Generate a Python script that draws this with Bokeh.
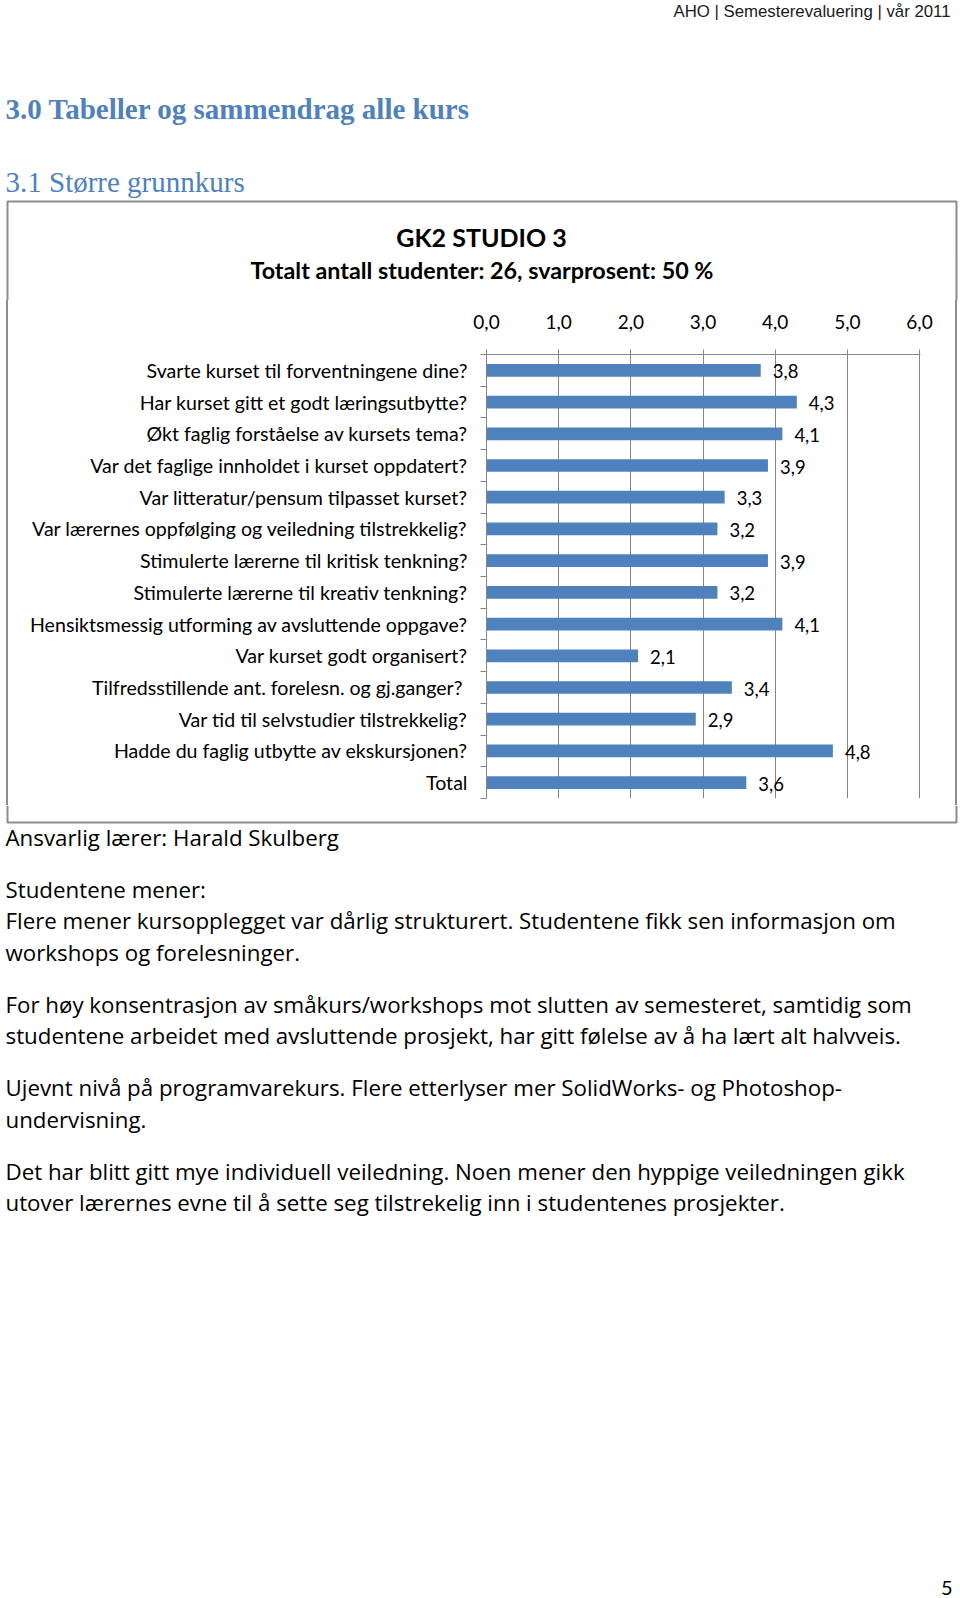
from bokeh.plotting import figure
from bokeh.layouts import column, row
from bokeh.models import Range1d, FixedTicker, Label, ColumnDataSource, Spacer
from bokeh.core.properties import value
from bokeh.embed import file_html
from bokeh.resources import INLINE

# ---------------- data ----------------
categories = [
    "Svarte kurset til forventningene dine?",
    "Har kurset gitt et godt læringsutbytte?",
    "Økt faglig forståelse av kursets tema?",
    "Var det faglige innholdet i kurset oppdatert?",
    "Var litteratur/pensum tilpasset kurset?",
    "Var lærernes oppfølging og veiledning tilstrekkelig?",
    "Stimulerte lærerne til kritisk tenkning?",
    "Stimulerte lærerne til kreativ tenkning?",
    "Hensiktsmessig utforming av avsluttende oppgave?",
    "Var kurset godt organisert?",
    "Tilfredsstillende ant. forelesn. og gj.ganger? ",
    "Var tid til selvstudier tilstrekkelig?",
    "Hadde du faglig utbytte av ekskursjonen?",
    "Total",
]
scores = [3.8, 4.3, 4.1, 3.9, 3.3, 3.2, 3.9, 3.2, 4.1, 2.1, 3.4, 2.9, 4.8, 3.6]
x_ticks = [0, 1, 2, 3, 4, 5, 6]
x_tick_labels = ["0,0", "1,0", "2,0", "3,0", "4,0", "5,0", "6,0"]

page_header = "AHO | Semesterevaluering | vår 2011"
heading1 = "3.0 Tabeller og sammendrag alle kurs"
heading2 = "3.1 Større grunnkurs"
chart_title = "GK2 STUDIO 3"
chart_subtitle = "Totalt antall studenter: 26, svarprosent: 50 %"
teacher = "Ansvarlig lærer: Harald Skulberg"
comments_heading = "Studentene mener:"
comment_lines = [
    "Flere mener kursopplegget var dårlig strukturert. Studentene fikk sen informasjon om",
    "workshops og forelesninger.",
    "For høy konsentrasjon av småkurs/workshops mot slutten av semesteret, samtidig som",
    "studentene arbeidet med avsluttende prosjekt, har gitt følelse av å ha lært alt halvveis.",
    "Ujevnt nivå på programvarekurs. Flere etterlyser mer SolidWorks- og Photoshop-",
    "undervisning.",
    "Det har blitt gitt mye individuell veiledning. Noen mener den hyppige veiledningen gikk",
    "utover lærernes evne til å sette seg tilstrekelig inn i studentenes prosjekter.",
]
page_number = "5"

# ---------------- page geometry (page pixels) ----------------
PAGE_W, PAGE_H = 960, 1598
TOP_H = 300           # header block: page y 0..300
MID_H = 505           # chart block: page y 300..805
BOT_H = PAGE_H - TOP_H - MID_H
STRIP_L, STRIP_R = 8, 4
CHART_W = 947          # page x 8..955

BOX_L, BOX_R, BOX_T, BOX_B = 7, 956, 201, 822
PLOT_L, PLOT_X6, PLOT_T, PLOT_B = 486, 919, 354, 798   # plot-area edges (page px)

BLUE = "#4f81bd"
GRAY = "#868686"
BOXC = "#8c8c8c"


def blank(w, h, x0, x1, y0, y1):
    f = figure(width=w, height=h, x_range=Range1d(x0, x1), y_range=Range1d(y1, y0),
               x_axis_location=None, y_axis_location=None, output_backend="svg",
               toolbar_location=None, min_border=0, outline_line_color=None,
               background_fill_color="white", border_fill_color="white")
    f.xgrid.grid_line_color = None
    f.ygrid.grid_line_color = None
    return f


def add_text(f, txt, x, y, font, size, color="black", align="left",
             baseline="middle", style="normal"):
    f.add_layout(Label(x=x, y=y, text=txt, text_font=font, text_font_size=size,
                       text_color=color, text_align=align, text_baseline=baseline,
                       text_font_style=style))


# ---------------- header block ----------------
top = blank(PAGE_W, TOP_H, 0, PAGE_W, 0, TOP_H)
add_text(top, page_header, 950, 10.5, "Liberation Sans", "16.8px", "#1a1a1a", align="right")
add_text(top, heading1, 5, 108, "Liberation Serif", "29px", BLUE, style="bold")
add_text(top, heading2, 5, 181, "Liberation Serif", "29px", BLUE)
top.line(x=[BOX_L, BOX_L, BOX_R, BOX_R], y=[TOP_H, BOX_T, BOX_T, TOP_H],
         line_color=BOXC, line_width=2)
add_text(top, chart_title, 481, 236, "Lato", "25px", "black", align="center", style="bold")
add_text(top, chart_subtitle, 481.5, 269, "Lato", "23.3px", "black", align="center", style="bold")

# ---------------- side edges of the chart box ----------------
left_edge = Spacer(width=STRIP_L, height=MID_H, margin=0,
                   styles={"border-right": f"2px solid {BOXC}", "box-sizing": "border-box"})
right_edge = Spacer(width=STRIP_R, height=MID_H, margin=0,
                    styles={"border-left": f"2px solid {BOXC}", "box-sizing": "border-box"})

# ---------------- chart ----------------
n = len(categories)
XMAX = x_ticks[-1]
px_per_unit = (PLOT_X6 - PLOT_L) / XMAX
fl = PLOT_L - STRIP_L                 # frame left inside chart figure
fw = (PLOT_X6 + 1) - PLOT_L           # frame width (1px beyond the last tick)
x_end = fw / px_per_unit
ft = PLOT_T - TOP_H
fb = PLOT_B - TOP_H

p = figure(width=CHART_W, height=MID_H, x_range=Range1d(0, x_end), y_range=Range1d(n, 0),
           x_axis_location="above", output_backend="svg", toolbar_location=None,
           min_border_left=fl, min_border_right=CHART_W - fl - fw,
           min_border_top=ft, min_border_bottom=MID_H - fb,
           outline_line_color=None, background_fill_color="white",
           border_fill_color="white")

centres = [i + 0.5 for i in range(n)]
yax = p.yaxis[0]
yax.ticker = FixedTicker(ticks=centres, minor_ticks=list(range(n + 1)))
yax.major_label_overrides = {c: lab for c, lab in zip(centres, categories)}
yax.major_tick_out = 0
yax.major_tick_in = 0
yax.minor_tick_out = 6
yax.minor_tick_in = 0
yax.minor_tick_line_color = GRAY
yax.axis_line_color = GRAY
yax.major_label_standoff = 13
yax.major_label_text_font = "Lato"
yax.major_label_text_font_size = "19.6px"
yax.major_label_text_color = "black"

xax = p.xaxis[0]
xax.ticker = FixedTicker(ticks=x_ticks, minor_ticks=[])
xax.major_label_overrides = {t: lab for t, lab in zip(x_ticks, x_tick_labels)}
xax.major_tick_out = 5
xax.major_tick_in = 0
xax.major_tick_line_color = GRAY
xax.axis_line_color = GRAY
xax.major_label_standoff = 21
xax.major_label_text_font = "Lato"
xax.major_label_text_font_size = "19px"
xax.major_label_text_color = "black"

p.xgrid.ticker = FixedTicker(ticks=x_ticks[1:])
p.xgrid.grid_line_color = GRAY
p.ygrid.grid_line_color = None

src = ColumnDataSource(dict(
    y=centres, score=scores,
    label=[f"{s:.1f}".replace(".", ",") for s in scores],
))
p.hbar(y="y", left=0, right="score", height=0.4, source=src,
       fill_color=BLUE, line_color=None)
p.text(x="score", y="y", text="label", source=src, x_offset=12, y_offset=1,
       text_align="left", text_baseline="middle",
       text_font=value("Lato"), text_font_size=value("18.5px"), text_color="black")

# ---------------- lower block ----------------
bot = blank(PAGE_W, BOT_H, 0, PAGE_W, TOP_H + MID_H, PAGE_H)
bot.line(x=[BOX_L, BOX_L, BOX_R, BOX_R], y=[TOP_H + MID_H, BOX_B, BOX_B, TOP_H + MID_H],
         line_color=BOXC, line_width=2)
body_font, body_size = "Open Sans", "22.3px"
add_text(bot, teacher, 5, 837, body_font, body_size)
add_text(bot, comments_heading, 5, 889, body_font, body_size)
line_y = [920, 952, 1004, 1035, 1087, 1119, 1171, 1202]
for txt, yy in zip(comment_lines, line_y):
    add_text(bot, txt, 5, yy, body_font, body_size)
add_text(bot, page_number, 952, 1587, "Lato", "20px", "black", align="right")

layout = column(top, row(left_edge, p, right_edge, spacing=0), bot, spacing=0)
open("out.html", "w").write(file_html(layout, INLINE))
